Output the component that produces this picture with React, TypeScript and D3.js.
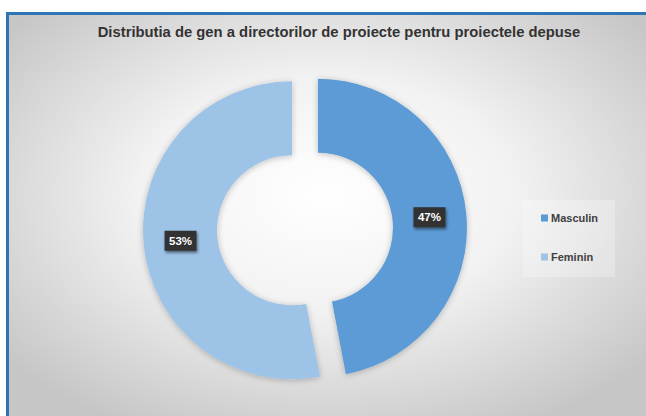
import React from "react";
import * as d3 from "d3";

const categories = ["Masculin", "Feminin"];
const values = [47, 53];
const labels = ["47%", "53%"];
const colors = ["#5B9BD5", "#9DC3E6"];
const title = "Distributia de gen a directorilor de proiecte pentru proiectele depuse";

const W = 646;
const H = 416;

export default function App() {
  const cx = 305;
  const cy = 229;
  const outerR = 149;
  const innerR = 75;
  const explode = 13;

  const pie = d3.pie<number>().sort(null).value((d) => d);
  const arcs = pie(values);
  const arcGen = d3.arc<d3.PieArcDatum<number>>().innerRadius(innerR).outerRadius(outerR);
  const labelArc = d3.arc<d3.PieArcDatum<number>>().innerRadius((innerR + outerR) / 2).outerRadius((innerR + outerR) / 2);

  const legendY = d3.scalePoint<string>().domain(categories).range([218, 257]);

  return (
    <svg width={W} height={H} style={{ position: "absolute", left: 0, top: 0, display: "block" }} fontFamily="'Liberation Sans', Arial, sans-serif">
      <defs>
        <radialGradient id="bg" cx="50%" cy="45%" r="65%">
          <stop offset="0%" stopColor="#ffffff" />
          <stop offset="45%" stopColor="#f2f2f2" />
          <stop offset="100%" stopColor="#c6c6c6" />
        </radialGradient>
        <filter id="sh" x="-20%" y="-20%" width="140%" height="140%">
          <feGaussianBlur in="SourceAlpha" stdDeviation="3" />
          <feOffset dx="0" dy="1" result="b" />
          <feComponentTransfer><feFuncA type="linear" slope="0.25" /></feComponentTransfer>
          <feMerge><feMergeNode /><feMergeNode in="SourceGraphic" /></feMerge>
        </filter>
        <filter id="lsh" x="-30%" y="-30%" width="160%" height="160%">
          <feGaussianBlur in="SourceAlpha" stdDeviation="1.5" />
          <feOffset dx="1" dy="1.5" />
          <feComponentTransfer><feFuncA type="linear" slope="0.5" /></feComponentTransfer>
          <feMerge><feMergeNode /><feMergeNode in="SourceGraphic" /></feMerge>
        </filter>
      </defs>
      <rect x={0} y={0} width={W} height={H} fill="#ffffff" />
      <rect x={8} y={14} width={W - 8} height={H - 14} fill="url(#bg)" />
      <rect x={7} y={12} width={W - 7} height={3} fill="#2E75B6" />
      <rect x={6} y={12} width={3} height={H - 12} fill="#2E75B6" />
      <text x={339} y={37} textAnchor="middle" fontSize={14.8} fontWeight="bold" fill="#333333">{title}</text>
      <g filter="url(#sh)">
        {arcs.map((a, i) => {
          const mid = (a.startAngle + a.endAngle) / 2;
          const dx = Math.sin(mid) * explode;
          const dy = -Math.cos(mid) * explode;
          return (
            <path key={i} d={arcGen(a) || ""} transform={`translate(${cx + dx},${cy + dy})`} fill={colors[i]} />
          );
        })}
      </g>
      {arcs.map((a, i) => {
        const mid = (a.startAngle + a.endAngle) / 2;
        const dx = Math.sin(mid) * explode;
        const dy = -Math.cos(mid) * explode;
        const [lx, ly] = labelArc.centroid(a);
        const x = cx + dx + lx;
        const y = cy + dy + ly;
        return (
          <g key={"l" + i} transform={`translate(${x},${y})`}>
            <rect x={-16} y={-10} width={32} height={20} fill="#333333" filter="url(#lsh)" />
            <text x={0} y={4} textAnchor="middle" fontSize={11.5} fontWeight="bold" fill="#ffffff">{labels[i]}</text>
          </g>
        );
      })}
      <rect x={523} y={200} width={92} height={77} fill="#ffffff" opacity={0.25} />
      {categories.map((c, i) => (
        <g key={c} transform={`translate(541,${legendY(c)})`}>
          <rect x={0} y={-3.5} width={7} height={7} fill={colors[i]} />
          <text x={10} y={4} fontSize={11} fontWeight="bold" fill="#404040">{c}</text>
        </g>
      ))}
    </svg>
  );
}
